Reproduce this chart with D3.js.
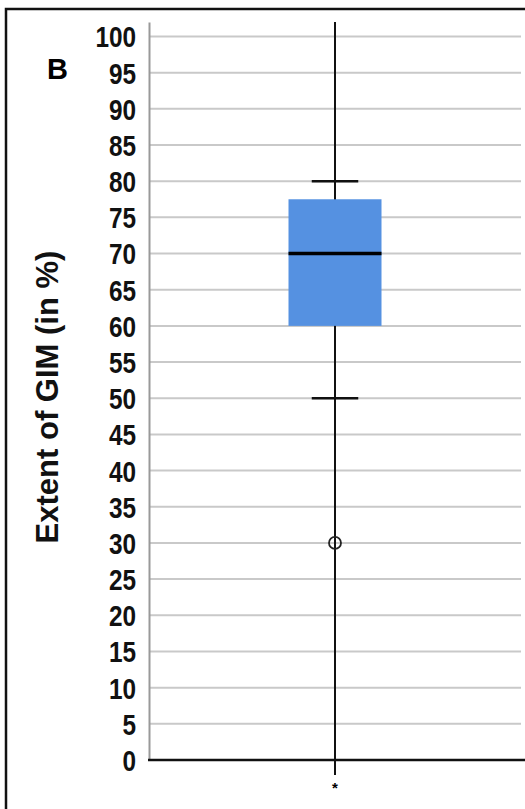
<!DOCTYPE html>
<html lang="en">
<head>
<meta charset="UTF-8">
<title>Extent of GIM</title>
<script src="https://cdn.jsdelivr.net/npm/d3@7"></script>
<style>
    body{margin:0;background:#fff;}
    .tick text{font-family:"Liberation Sans",Arial,sans-serif;font-weight:bold;}
</style>
</head>
<body>
<div id="main"><svg></svg></div>
<script>
    // data
    var categories = ["*"];
    var whiskerLow = [50];
    var q1 = [60];
    var median = [70];
    var q3 = [77.5];
    var whiskerHigh = [80];
    var outliers = [[30]];
    var yTicks = d3.range(0, 101, 5);

    var width = 525, height = 809;
    var svg = d3.select("#main").select("svg")
        .attr("width", width)
        .attr("height", height);

    // plot edges (not "top": window.top is read-only)
    var plotLeft = 149, plotRight = 521, plotTop = 22, plotBottom = 760;

    var y = d3.scaleLinear().domain([0, 102]).range([plotBottom, plotTop]);
    var x = d3.scaleBand().domain(categories).range([plotLeft, plotRight]).paddingInner(0).paddingOuter(1.5);

    // outer frame
    svg.append("path")
        .attr("d", "M6," + height + "V9H" + width)
        .attr("fill", "none")
        .attr("stroke", "#111")
        .attr("stroke-width", 2.5);

    // grid
    svg.append("g").selectAll("line")
        .data(yTicks.filter(function(d){ return d > 0; }))
        .enter().append("line")
        .attr("x1", plotLeft).attr("x2", plotRight)
        .attr("y1", function(d){ return y(d); })
        .attr("y2", function(d){ return y(d); })
        .attr("stroke", "#c9c9c9")
        .attr("stroke-width", 2);

    // y axis, labels squeezed a bit (narrow font look)
    var squeeze = 0.84;
    var yAxis = svg.append("g")
        .attr("transform", "translate(" + plotLeft + ",0)")
        .call(d3.axisLeft(y).tickValues(yTicks).tickSize(0).tickPadding(13));
    yAxis.select(".domain").attr("stroke", "#999").attr("stroke-width", 2);
    yAxis.selectAll(".tick text")
        .attr("font-size", 29)
        .attr("fill", "#111")
        .attr("dy", "0.36em")
        .attr("x", -13 / squeeze)
        .attr("transform", "scale(" + squeeze + ",1)");

    // baseline
    svg.append("line")
        .attr("x1", plotLeft - 1).attr("x2", width)
        .attr("y1", y(0)).attr("y2", y(0))
        .attr("stroke", "#111").attr("stroke-width", 2.5);

    // category line + label
    categories.forEach(function(c, i){
        var cx = x(c) + x.bandwidth() / 2;
        svg.append("line")
            .attr("x1", cx).attr("x2", cx)
            .attr("y1", plotTop).attr("y2", y(0) + 15)
            .attr("stroke", "#111").attr("stroke-width", 2);
        svg.append("text")
            .attr("x", cx).attr("y", y(0) + 33)
            .attr("text-anchor", "middle")
            .attr("font-family", "Liberation Sans, Arial, sans-serif")
            .attr("font-weight", "bold")
            .attr("font-size", 15)
            .text(c);

        var g = svg.append("g");
        g.append("rect")
            .attr("x", x(c))
            .attr("width", x.bandwidth())
            .attr("y", y(q3[i]))
            .attr("height", y(q1[i]) - y(q3[i]))
            .attr("fill", "#5591e1");
        g.append("line")
            .attr("x1", x(c)).attr("x2", x(c) + x.bandwidth())
            .attr("y1", y(median[i])).attr("y2", y(median[i]))
            .attr("stroke", "#000").attr("stroke-width", 3.5);
        [whiskerLow[i], whiskerHigh[i]].forEach(function(v){
            g.append("line")
                .attr("x1", cx - x.bandwidth() / 4).attr("x2", cx + x.bandwidth() / 4)
                .attr("y1", y(v)).attr("y2", y(v))
                .attr("stroke", "#111").attr("stroke-width", 2.5);
        });
        outliers[i].forEach(function(v){
            g.append("circle")
                .attr("cx", cx).attr("cy", y(v)).attr("r", 6)
                .attr("fill", "none")
                .attr("stroke", "#222").attr("stroke-width", 1.8);
        });
    });

    // y label
    svg.append("text")
        .attr("transform", "translate(58," + ((plotTop + plotBottom) / 2 + 6) + ") rotate(-90)")
        .attr("text-anchor", "middle")
        .attr("font-family", "Liberation Sans, Arial, sans-serif")
        .attr("font-weight", "bold")
        .attr("font-size", 31)
        .attr("fill", "#111")
        .text("Extent of GIM (in %)");

    // panel letter
    svg.append("text")
        .attr("x", 47).attr("y", 79)
        .attr("font-family", "Liberation Sans, Arial, sans-serif")
        .attr("font-weight", "bold")
        .attr("font-size", 29)
        .text("B");
</script>
</body>
</html>
